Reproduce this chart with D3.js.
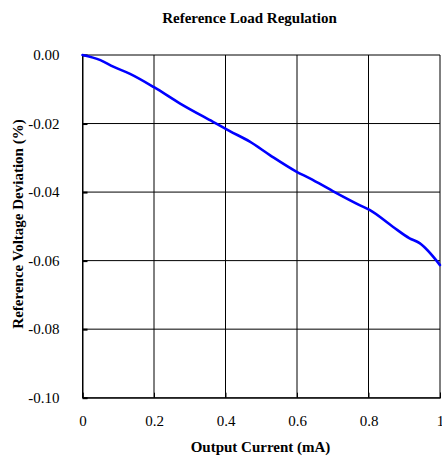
<!DOCTYPE html>
<html><head><meta charset="utf-8">
<script src="https://cdn.jsdelivr.net/npm/d3@7/dist/d3.min.js"></script>
<style>
html,body{margin:0;padding:0;background:#fff;}
svg{display:block;font-family:"Liberation Serif","Times New Roman",serif;}
</style></head>
<body>
<svg id="chart" width="442" height="460"></svg>
<script>
const title = "Reference Load Regulation";
const xTitle = "Output Current (mA)";
const yTitle = "Reference Voltage Deviation (%)";
const xTicks = [0, 0.2, 0.4, 0.6, 0.8, 1];
const xTickLabels = ["0", "0.2", "0.4", "0.6", "0.8", "1"];
const yTicks = [0, -0.02, -0.04, -0.06, -0.08, -0.10];
const yTickLabels = ["0.00", "-0.02", "-0.04", "-0.06", "-0.08", "-0.10"];
const current = [0, 0.05, 0.086, 0.133, 0.2, 0.272, 0.365, 0.412, 0.468, 0.524, 0.598, 0.636, 0.7, 0.775, 0.803, 0.868, 0.915, 0.943, 1.0];
const deviation = [0, -0.0015, -0.0034, -0.0055, -0.0094, -0.0141, -0.0195, -0.0222, -0.0253, -0.0292, -0.0340, -0.0360, -0.0397, -0.0438, -0.0452, -0.0501, -0.0535, -0.0549, -0.0613];

const svg = d3.select("#chart");
const L = 82.5, R = 440, T = 55, B = 397.7;
const x = d3.scaleLinear().domain([0, 1]).range([L, R]);
const y = d3.scaleLinear().domain([-0.10, 0]).range([B, T]);

// gridlines
const g = svg.append("g");
g.selectAll("line.vx").data(xTicks).join("line")
  .attr("x1", d => x(d)).attr("x2", d => x(d)).attr("y1", T).attr("y2", B)
  .attr("stroke", "#000").attr("stroke-width", 1);
g.selectAll("line.hy").data(yTicks).join("line")
  .attr("x1", L).attr("x2", R).attr("y1", d => y(d)).attr("y2", d => y(d))
  .attr("stroke", "#000").attr("stroke-width", 1);

// left axis with inward ticks
const yAxis = d3.axisLeft(y).tickValues(yTicks).tickSize(-5).tickFormat((d, i) => yTickLabels[i]).tickPadding(23);
const ya = svg.append("g").attr("transform", `translate(${L},0)`).call(yAxis);
ya.select(".domain").attr("stroke", "#000");
ya.selectAll(".tick line").attr("stroke", "#000").attr("stroke-width", 2);
ya.selectAll("text").attr("font-size", 15).attr("fill", "#000")
  .attr("font-family", "Liberation Serif, Times New Roman, serif");

const xAxis = d3.axisBottom(x).tickValues(xTicks).tickSize(-5).tickFormat((d, i) => xTickLabels[i]).tickPadding(18);
const xa = svg.append("g").attr("transform", `translate(0,${B})`).call(xAxis);
xa.select(".domain").attr("stroke", "#000");
xa.selectAll(".tick line").attr("stroke", "#000").attr("stroke-width", 1);
xa.selectAll("text").attr("font-size", 15).attr("fill", "#000")
  .attr("font-family", "Liberation Serif, Times New Roman, serif");

// series
const pts = current.map((c, i) => [c, deviation[i]]);
svg.append("path").datum(pts)
  .attr("fill", "none").attr("stroke", "#0000ff").attr("stroke-width", 2.6)
  .attr("stroke-linejoin", "round").attr("stroke-linecap", "round")
  .attr("d", d3.line().x(d => x(d[0])).y(d => y(d[1])).curve(d3.curveMonotoneX));

// titles
svg.append("text").attr("x", 249.5).attr("y", 22.7).attr("text-anchor", "middle")
  .attr("font-size", 15).attr("font-weight", "bold").text(title);
svg.append("text").attr("x", 260.5).attr("y", 452).attr("text-anchor", "middle")
  .attr("font-size", 15).attr("font-weight", "bold").text(xTitle);
svg.append("text").attr("transform", "translate(23,224) rotate(-90)").attr("text-anchor", "middle")
  .attr("font-size", 15).attr("font-weight", "bold").text(yTitle);
</script>
</body></html>
